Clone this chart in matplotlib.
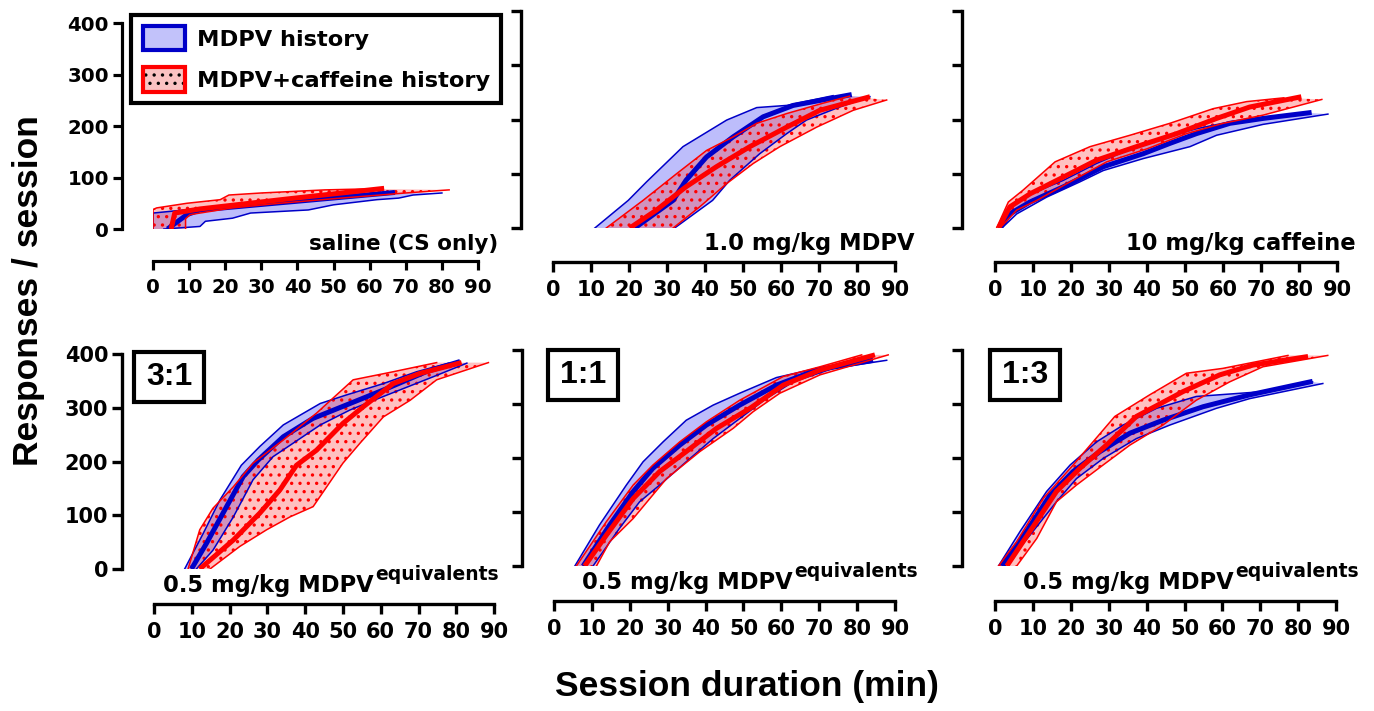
import matplotlib
matplotlib.use("Agg")
import matplotlib.pyplot as plt
from matplotlib.patches import Patch, Rectangle
from matplotlib.legend_handler import HandlerTuple

# cumulative responses: (session minute, responses)
# lo / hi = left / right edge of the SEM band, mid = group mean

# saline (CS only)
sal_mdpv_lo = [(0, 0), (0, 31), (13, 40), (30, 50), (45, 60), (63, 71)]
sal_mdpv_mid = [(4, 0), (9.4, 28), (13, 37), (40, 54), (67, 71)]
sal_mdpv_hi = [(3, 0), (13, 5), (14.5, 15), (22, 21), (27, 31), (43, 37),
               (50, 47), (62, 57), (68, 60), (72, 66), (80, 70)]
sal_caf_lo = [(0, 0), (0, 38), (1, 41), (9.4, 50), (18.6, 57), (21, 66),
              (30, 70), (47.6, 76), (60, 78)]
sal_caf_mid = [(5, 0), (6, 31), (13, 39), (38, 59), (64, 79)]
sal_caf_hi = [(9, 0), (9, 20), (10.3, 28), (22, 41), (35, 50), (52, 60),
              (70, 70), (82, 76)]

# 1.0 mg/kg MDPV
mdpv_mdpv_lo = [(11, 0), (19.8, 51), (24.6, 85), (34.2, 150), (45.7, 199),
                (53.6, 222), (61.5, 226), (73.7, 244)]
mdpv_mdpv_mid = [(21.5, 0), (31.6, 51), (35, 88), (40.4, 131), (47.4, 168),
                 (55.3, 205), (63.2, 226), (78.6, 246)]
mdpv_mdpv_hi = [(32, 0), (42, 51), (46.5, 88), (54.4, 137), (61.5, 174),
                (66.7, 199), (75, 222), (83.4, 242)]
mdpv_caf_lo = [(14, 0), (23.7, 51), (32.5, 100), (40.4, 143), (47.4, 168),
               (53.6, 193), (61.5, 211), (71, 230), (78, 243)]
mdpv_caf_mid = [(20.2, 0), (27.2, 33), (35, 76), (43, 113), (51.8, 150),
                (61.5, 186), (70.2, 217), (83.4, 242)]
mdpv_caf_hi = [(31.6, 0), (38.6, 39), (45.7, 82), (52.7, 119), (59.7, 150),
               (69.4, 186), (79, 217), (87.8, 236)]

# 10 mg/kg caffeine
caf_mdpv_lo = [(0.9, 0), (3, 33), (7.4, 57), (18, 88), (26.7, 119), (39, 156),
               (53, 183), (62, 196), (75, 205), (83, 212)]
caf_mdpv_mid = [(1.3, 0), (3.9, 26), (9.2, 48), (18, 76), (28.5, 113), (39, 137),
                (46, 156), (53, 174), (61.8, 193), (70.5, 202), (83.3, 213)]
caf_mdpv_hi = [(1.8, 0), (5.7, 26), (13.6, 57), (22.3, 85), (28.5, 106), (39, 128),
               (51.3, 150), (58.3, 171), (70.5, 191), (87.6, 210)]
caf_caf_lo = [(0.4, 0), (3.5, 48), (7.4, 70), (15.8, 122), (25, 150), (35.5, 171),
              (46, 193), (57.4, 220), (66.2, 233), (76, 240)]
caf_caf_mid = [(0.9, 0), (3.9, 39), (9.2, 63), (18, 94), (26.7, 125), (37.2, 150),
               (47.8, 174), (58.3, 202), (67, 223), (80.6, 242)]
caf_caf_hi = [(1.3, 0), (5.7, 33), (11, 51), (19.7, 85), (29.4, 122), (40, 146),
              (50.4, 174), (60, 193), (70.5, 208), (86, 237)]

# 3:1 mixture
r31_mdpv_lo = [(8.1, 0), (13, 66), (17.4, 128), (23.1, 193), (28, 228), (34.2, 268),
               (44, 308), (51, 324), (60.7, 345), (69.5, 367), (78, 383)]
r31_mdpv_mid = [(9.9, 0), (13.9, 48), (19.2, 116), (23.6, 172), (27.6, 203),
                (34.2, 246), (42, 280), (51.9, 308), (60.7, 333), (72, 367), (81, 386)]
r31_mdpv_hi = [(11.2, 0), (15.6, 35), (21, 97), (26.2, 166), (31.5, 209), (36.8, 234),
               (44, 268), (51.9, 296), (60.7, 321), (74, 358), (82.8, 383)]
r31_caf_lo = [(9, 0), (12.1, 73), (15.6, 113), (21, 153), (26.2, 197), (34.2, 240),
              (43, 290), (52.7, 352), (63.3, 367), (74.8, 384)]
r31_caf_mid = [(12.1, 0), (21, 54), (28, 104), (33.3, 147), (37.7, 193), (43, 221),
               (50, 271), (55.4, 302), (63.3, 345), (70.4, 364), (81.4, 384)]
r31_caf_hi = [(14.8, 0), (22.7, 42), (29.8, 73), (36, 97), (42.1, 116), (50, 197),
              (54.5, 234), (60.7, 283), (67.8, 314), (74.8, 352), (88.5, 384)]

# 1:1 mixture
r11_mdpv_lo = [(5.5, 0), (12, 76), (19.1, 150), (23.5, 193), (28.8, 230), (34.9, 270),
               (42, 298), (49, 320), (58.7, 349), (69.3, 366), (80, 378)]
r11_mdpv_mid = [(7.7, 0), (14.7, 76), (20.9, 138), (26.1, 181), (33.2, 224),
                (40.2, 261), (49, 298), (58.7, 335), (69.3, 363), (84.2, 381)]
r11_mdpv_hi = [(10.3, 0), (17.3, 70), (22.6, 119), (27.9, 150), (34.9, 193), (42, 236),
               (49, 273), (56, 310), (63.1, 341), (73.7, 366), (87.8, 381)]
r11_caf_lo = [(5.9, 0), (13.8, 82), (20.9, 150), (26.1, 187), (33.2, 230), (40.2, 267),
              (49, 307), (60.5, 351), (70.2, 369), (81.2, 391)]
r11_caf_mid = [(8.1, 0), (13.8, 57), (20.9, 125), (27.9, 175), (34.9, 212), (42.9, 255),
               (51.7, 292), (60.5, 335), (70.2, 363), (84.7, 391)]
r11_caf_hi = [(11.2, 0), (14.7, 45), (20.9, 88), (29.7, 162), (38.5, 212), (47.3, 255),
              (52.6, 286), (59.6, 320), (70.2, 354), (88.2, 391)]

# 1:3 mixture
r13_mdpv_lo = [(0.9, 0), (6.6, 64), (13.6, 138), (19.8, 187), (26.8, 230), (33.8, 261),
               (42.6, 292), (53.1, 314), (70.7, 323), (83.8, 341)]
r13_mdpv_mid = [(1.8, 0), (8.3, 64), (14.5, 131), (20.6, 175), (27.7, 212), (35.6, 246),
                (44.3, 270), (54.9, 295), (67.2, 317), (83.8, 342)]
r13_mdpv_hi = [(2.6, 0), (9.2, 57), (16.2, 119), (21.5, 162), (28.5, 199), (37.3, 236),
               (46.1, 261), (58.4, 292), (67.2, 310), (86.5, 338)]
r13_caf_lo = [(0.9, 0), (5.7, 45), (12.7, 125), (20.6, 187), (31.6, 277), (40.8, 317),
              (50.5, 357), (60.1, 366), (77.3, 390)]
r13_caf_mid = [(3.1, 0), (9.2, 64), (16.2, 138), (22.4, 181), (29.4, 224), (37.3, 277),
               (49.6, 323), (59.3, 354), (68, 372), (82.6, 388)]
r13_caf_hi = [(5.7, 0), (11, 51), (16.2, 119), (21.5, 150), (28.5, 187), (35.6, 224),
              (44.3, 261), (53.1, 307), (61.9, 341), (70.7, 369), (87.8, 390)]

panel_titles = ["saline (CS only)", "1.0 mg/kg MDPV", "10 mg/kg caffeine",
                "0.5 mg/kg MDPV", "0.5 mg/kg MDPV", "0.5 mg/kg MDPV"]
ratio_labels = [None, None, None, "3:1", "1:1", "1:3"]
legend_labels = ["MDPV history", "MDPV+caffeine history"]
x_ticks = list(range(0, 91, 10))
y_ticks = list(range(0, 401, 100))

BLUE = "#0000c8"
RED = "#ff0000"
BLUE_FILL = (0.15, 0.15, 0.95, 0.3)
RED_FILL = (1.0, 0.2, 0.2, 0.3)
BOLD = "Liberation Sans"

plt.rcParams["font.family"] = "DejaVu Sans"
plt.rcParams["font.weight"] = "bold"
plt.rcParams["hatch.linewidth"] = 1.2


def draw_group(ax, lo, mid, hi, line_c, fill_c, hatch=None):
    xs = [p[0] for p in lo] + [p[0] for p in hi[::-1]]
    ys = [p[1] for p in lo] + [p[1] for p in hi[::-1]]
    ax.fill(xs, ys, facecolor=fill_c, edgecolor=line_c, linewidth=0, hatch=hatch)
    for edge in (lo, hi):
        ax.plot([p[0] for p in edge], [p[1] for p in edge], color=line_c, lw=1.1)
    ax.plot([p[0] for p in mid], [p[1] for p in mid], color=line_c, lw=3.6,
            solid_capstyle="butt")


fig = plt.figure(figsize=(13.74, 7.11), dpi=100)

# data-area rectangles (figure fraction), spine offsets (pt), size scale
layout = [
    ([0.1114, 0.6779, 0.2365, 0.2897], 22.3, 23.0, 0.95),
    ([0.4025, 0.6793, 0.2489, 0.3052], 23.0, 24.5, 1.0),
    ([0.7242, 0.6793, 0.2489, 0.3052], 23.5, 24.5, 1.0),
    ([0.1121, 0.1997, 0.2475, 0.3024], 23.0, 25.0, 1.0),
    ([0.4032, 0.2039, 0.2482, 0.3038], 23.0, 25.0, 1.0),
    ([0.7242, 0.2039, 0.2482, 0.3038], 23.5, 25.0, 1.0),
]
groups = [
    (sal_mdpv_lo, sal_mdpv_mid, sal_mdpv_hi, sal_caf_lo, sal_caf_mid, sal_caf_hi),
    (mdpv_mdpv_lo, mdpv_mdpv_mid, mdpv_mdpv_hi, mdpv_caf_lo, mdpv_caf_mid, mdpv_caf_hi),
    (caf_mdpv_lo, caf_mdpv_mid, caf_mdpv_hi, caf_caf_lo, caf_caf_mid, caf_caf_hi),
    (r31_mdpv_lo, r31_mdpv_mid, r31_mdpv_hi, r31_caf_lo, r31_caf_mid, r31_caf_hi),
    (r11_mdpv_lo, r11_mdpv_mid, r11_mdpv_hi, r11_caf_lo, r11_caf_mid, r11_caf_hi),
    (r13_mdpv_lo, r13_mdpv_mid, r13_mdpv_hi, r13_caf_lo, r13_caf_mid, r13_caf_hi),
]
title_right = [1.062, 1.058, 1.053, None, None, None]
sub_left = [None, None, None, 0.026, 0.082, 0.082]
ratio_pos = [None, None, None, (0.044, 0.895), (0.085, 0.884), (0.088, 0.884)]

axes = []
for i, (rect, off_l, off_b, sc) in enumerate(layout):
    ax = fig.add_axes(rect)
    axes.append(ax)
    g = groups[i]
    draw_group(ax, g[0], g[1], g[2], BLUE, BLUE_FILL)
    draw_group(ax, g[3], g[4], g[5], RED, RED_FILL, hatch="..")

    ax.set_xlim(0, 90)
    ax.set_ylim(0, 400)
    ax.set_xticks(x_ticks)
    ax.set_yticks(y_ticks)
    ax.patch.set_visible(False)
    for s in ["top", "right"]:
        ax.spines[s].set_visible(False)
    ax.spines["left"].set_position(("outward", off_l))
    ax.spines["bottom"].set_position(("outward", off_b))
    for s in ["left", "bottom"]:
        ax.spines[s].set_linewidth(2.4 * sc)
    ax.tick_params(direction="out", length=7 * sc, width=2.4 * sc, labelsize=15 * sc)
    ax.tick_params(axis="x", pad=6 * sc)
    ax.tick_params(axis="y", pad=3 * sc, labelleft=(i % 3 == 0))

    if title_right[i] is not None:
        ax.text(title_right[i], -0.1, panel_titles[i], transform=ax.transAxes,
                ha="right", va="baseline", fontsize=16.3 * sc)
    else:
        main = ax.text(sub_left[i], -0.107, panel_titles[i], transform=ax.transAxes,
                       ha="left", va="baseline", fontsize=16.3)
        ax.annotate("equivalents", xy=(1, 0), xycoords=main, xytext=(1, 12.4),
                    textcoords="offset points", ha="left", va="baseline",
                    fontsize=13.5)
        cx, cy = ratio_pos[i]
        w, h = 0.207, 0.233
        ax.add_patch(Rectangle((cx - w / 2, cy - h / 2), w, h, transform=ax.transAxes,
                               fill=False, edgecolor="black", lw=3, clip_on=False))
        ax.text(cx, cy, ratio_labels[i], transform=ax.transAxes, ha="center",
                va="center", fontsize=23, family=BOLD, weight="bold")

h_blue = Patch(facecolor=(0.76, 0.76, 0.98), edgecolor=BLUE, linewidth=3)
h_red = (Patch(facecolor=(0.98, 0.76, 0.76), edgecolor="black", linewidth=0, hatch=".."),
         Patch(facecolor="none", edgecolor=RED, linewidth=3))
leg = fig.legend([h_blue, h_red], legend_labels, loc="upper left",
                 bbox_to_anchor=(0.0957, 0.9795), borderaxespad=0, fontsize=16.2,
                 handlelength=1.9, handleheight=1.3, handletextpad=0.5,
                 labelspacing=0.75, borderpad=0.5, fancybox=False,
                 edgecolor="black", framealpha=1,
                 handler_map={tuple: HandlerTuple(ndivide=1)})
leg.get_frame().set_linewidth(3)

fig.text(0.0204, 0.592, "Responses / session", rotation=90, ha="center", va="center",
         fontsize=25.5, family=BOLD, weight="bold")
fig.text(0.5437, 0.034, "Session duration (min)", ha="center", va="center",
         fontsize=25.5, family=BOLD, weight="bold")

fig.savefig("out.png", dpi=100)
